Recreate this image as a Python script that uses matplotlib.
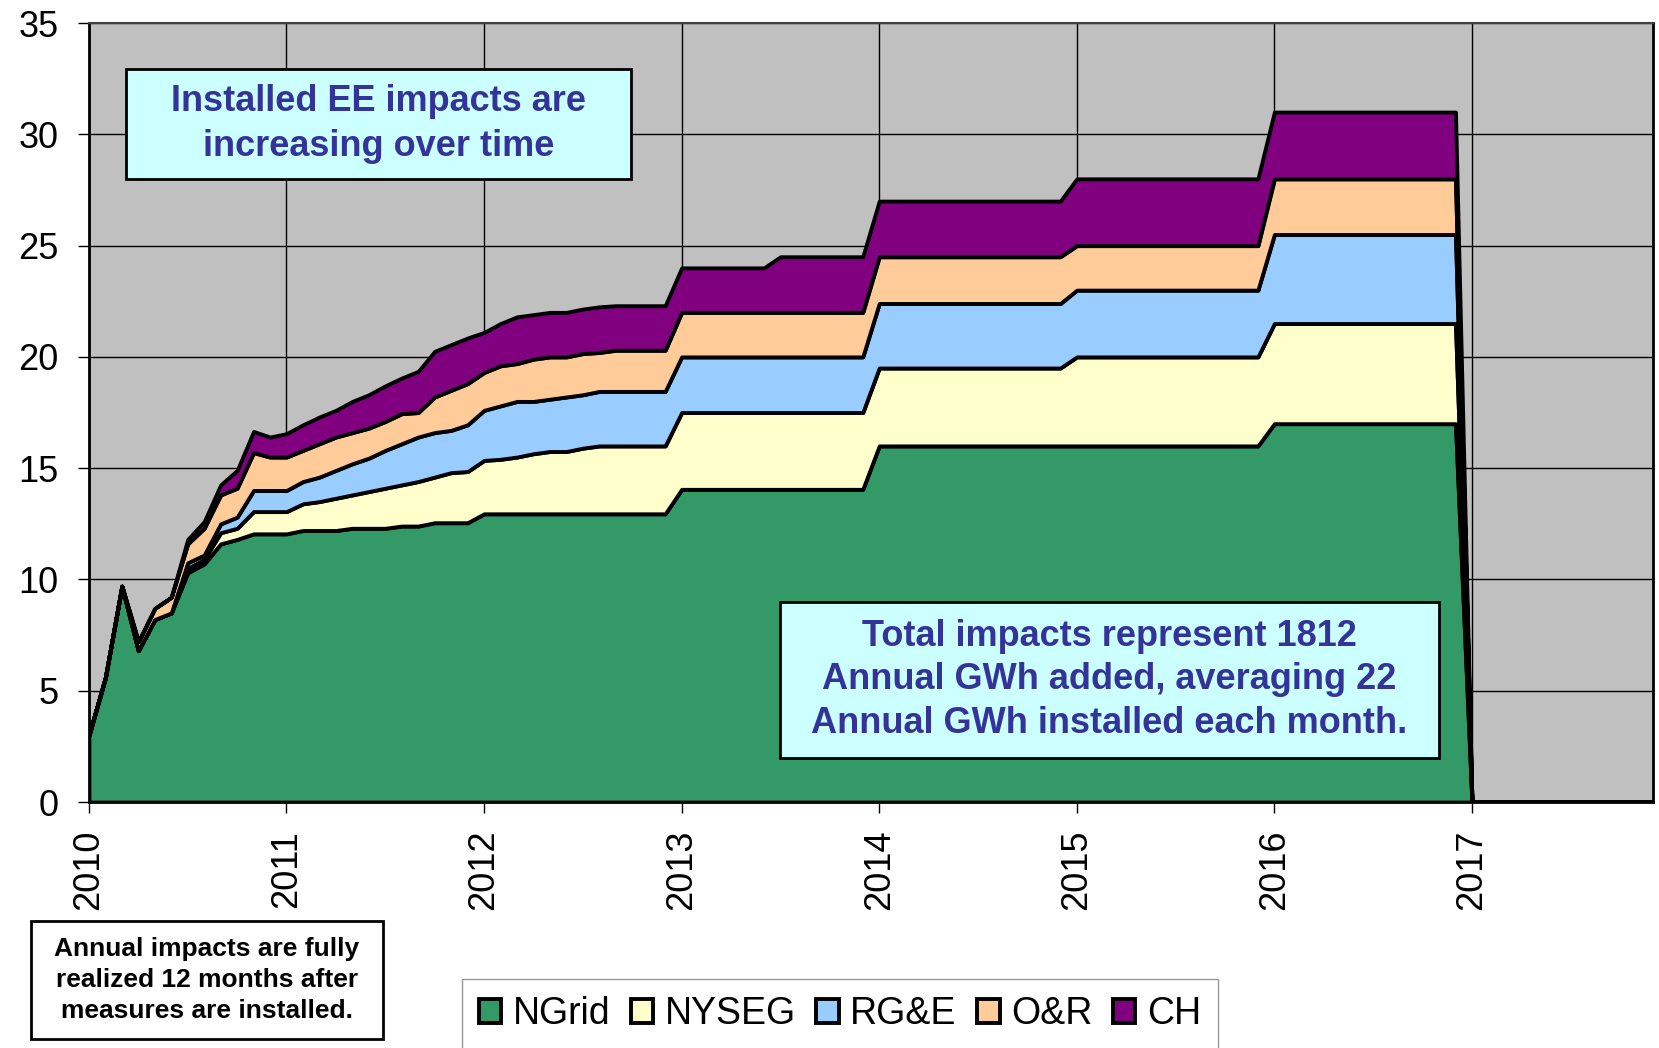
import matplotlib
matplotlib.use("Agg")
from matplotlib import pyplot as plt
from matplotlib.patches import Rectangle
import numpy as np

plt.rcParams["font.family"] = ["Liberation Sans", "DejaVu Sans"]

# monthly installed EE impacts, Jan 2010 .. Dec 2017
years = [2010, 2011, 2012, 2013, 2014, 2015, 2016, 2017]
companies = ["NGrid", "NYSEG", "RG&E", "O&R", "CH"]
colors = ["#339966", "#FFFFCC", "#99CCFF", "#FFCC99", "#800080"]

ngrid = [
    3.0, 5.6, 9.7, 6.8, 8.2, 8.5, 10.3, 10.7, 11.6, 11.8, 12.05, 12.05,
    12.05, 12.2, 12.2, 12.2, 12.3, 12.3, 12.3, 12.4, 12.4, 12.55, 12.55, 12.55,
    12.95, 12.95, 12.95, 12.95, 12.95, 12.95, 12.95, 12.95, 12.95, 12.95, 12.95, 12.95,
    14.05, 14.05, 14.05, 14.05, 14.05, 14.05, 14.05, 14.05, 14.05, 14.05, 14.05, 14.05,
    16.0, 16.0, 16.0, 16.0, 16.0, 16.0, 16.0, 16.0, 16.0, 16.0, 16.0, 16.0,
    16.0, 16.0, 16.0, 16.0, 16.0, 16.0, 16.0, 16.0, 16.0, 16.0, 16.0, 16.0,
    17.0, 17.0, 17.0, 17.0, 17.0, 17.0, 17.0, 17.0, 17.0, 17.0, 17.0, 17.0,
    0, 0, 0, 0, 0, 0, 0, 0, 0, 0, 0, 0,
]
nyseg = [
    0, 0, 0, 0, 0, 0, 0.2, 0.2, 0.5, 0.5, 1.0, 1.0,
    1.0, 1.2, 1.3, 1.45, 1.5, 1.65, 1.8, 1.85, 2.0, 2.05, 2.25, 2.3,
    2.4, 2.45, 2.55, 2.7, 2.8, 2.8, 2.95, 3.05, 3.05, 3.05, 3.05, 3.05,
    3.45, 3.45, 3.45, 3.45, 3.45, 3.45, 3.45, 3.45, 3.45, 3.45, 3.45, 3.45,
    3.5, 3.5, 3.5, 3.5, 3.5, 3.5, 3.5, 3.5, 3.5, 3.5, 3.5, 3.5,
    4.0, 4.0, 4.0, 4.0, 4.0, 4.0, 4.0, 4.0, 4.0, 4.0, 4.0, 4.0,
    4.5, 4.5, 4.5, 4.5, 4.5, 4.5, 4.5, 4.5, 4.5, 4.5, 4.5, 4.5,
    0, 0, 0, 0, 0, 0, 0, 0, 0, 0, 0, 0,
]
rge = [
    0, 0, 0, 0, 0, 0, 0.25, 0.2, 0.4, 0.5, 0.95, 0.95,
    0.95, 1.0, 1.1, 1.25, 1.4, 1.5, 1.7, 1.85, 2.0, 2.0, 1.9, 2.1,
    2.25, 2.4, 2.5, 2.35, 2.35, 2.45, 2.4, 2.45, 2.45, 2.45, 2.45, 2.45,
    2.5, 2.5, 2.5, 2.5, 2.5, 2.5, 2.5, 2.5, 2.5, 2.5, 2.5, 2.5,
    2.9, 2.9, 2.9, 2.9, 2.9, 2.9, 2.9, 2.9, 2.9, 2.9, 2.9, 2.9,
    3.0, 3.0, 3.0, 3.0, 3.0, 3.0, 3.0, 3.0, 3.0, 3.0, 3.0, 3.0,
    4.0, 4.0, 4.0, 4.0, 4.0, 4.0, 4.0, 4.0, 4.0, 4.0, 4.0, 4.0,
    0, 0, 0, 0, 0, 0, 0, 0, 0, 0, 0, 0,
]
onr = [
    0, 0, 0, 0.4, 0.5, 0.7, 0.85, 1.2, 1.3, 1.3, 1.7, 1.5,
    1.5, 1.4, 1.5, 1.5, 1.4, 1.35, 1.3, 1.35, 1.1, 1.6, 1.8, 1.85,
    1.7, 1.8, 1.7, 1.9, 1.9, 1.8, 1.85, 1.75, 1.85, 1.85, 1.85, 1.85,
    2.0, 2.0, 2.0, 2.0, 2.0, 2.0, 2.0, 2.0, 2.0, 2.0, 2.0, 2.0,
    2.1, 2.1, 2.1, 2.1, 2.1, 2.1, 2.1, 2.1, 2.1, 2.1, 2.1, 2.1,
    2.0, 2.0, 2.0, 2.0, 2.0, 2.0, 2.0, 2.0, 2.0, 2.0, 2.0, 2.0,
    2.5, 2.5, 2.5, 2.5, 2.5, 2.5, 2.5, 2.5, 2.5, 2.5, 2.5, 2.5,
    0, 0, 0, 0, 0, 0, 0, 0, 0, 0, 0, 0,
]
ch = [
    0, 0, 0, 0, 0, 0, 0.2, 0.3, 0.45, 0.8, 0.95, 0.9,
    1.05, 1.15, 1.2, 1.2, 1.4, 1.5, 1.6, 1.6, 1.85, 2.05, 2.05, 2.05,
    1.8, 1.9, 2.1, 2.0, 2.0, 2.0, 2.0, 2.05, 2.0, 2.0, 2.0, 2.0,
    2.0, 2.0, 2.0, 2.0, 2.0, 2.0, 2.5, 2.5, 2.5, 2.5, 2.5, 2.5,
    2.5, 2.5, 2.5, 2.5, 2.5, 2.5, 2.5, 2.5, 2.5, 2.5, 2.5, 2.5,
    3.0, 3.0, 3.0, 3.0, 3.0, 3.0, 3.0, 3.0, 3.0, 3.0, 3.0, 3.0,
    3.0, 3.0, 3.0, 3.0, 3.0, 3.0, 3.0, 3.0, 3.0, 3.0, 3.0, 3.0,
    0, 0, 0, 0, 0, 0, 0, 0, 0, 0, 0, 0,
]

box_top = "Installed EE impacts are\nincreasing over time"
box_mid = "Total impacts represent 1812\nAnnual GWh added, averaging 22\nAnnual GWh installed each month."
box_note = "Annual impacts are fully\nrealized 12 months after\nmeasures are installed."

months = np.arange(len(ngrid))

fig = plt.figure(figsize=(16.59, 10.48), dpi=100)
ax = fig.add_axes([0.0536, 0.2347, 0.9428, 0.7433])
ax.set_facecolor("#C0C0C0")

ax.stackplot(months, ngrid, nyseg, rge, onr, ch, labels=companies,
             colors=colors, edgecolor="black", linewidth=2.8, zorder=3)

ax.set_xlim(0, len(months) - 1)
ax.set_ylim(0, 35)
ax.set_xticks([12 * i for i in range(len(years))])
ax.set_xticklabels([str(y) for y in years], rotation=90, fontsize=26)
ax.set_yticks(range(0, 36, 5))
ax.tick_params(axis="y", labelsize=26, length=8, width=1, pad=14)
ax.tick_params(axis="x", length=8, width=1, pad=12)
ax.grid(True, color="black", linewidth=1, zorder=1)
ax.set_axisbelow(True)
for side in ["left", "bottom", "right"]:
    ax.spines[side].set_linewidth(2)
ax.spines["top"].set_color("#404040")
ax.spines["top"].set_linewidth(1.5)

# text boxes
def note(x0, y0, w, h, text, face, color, size, spacing):
    fig.patches.append(Rectangle((x0, y0), w, h, transform=fig.transFigure,
                                 facecolor=face, edgecolor="black",
                                 linewidth=2, zorder=5))
    fig.text(x0 + w / 2, y0 + h / 2, text, ha="center", va="center",
             fontsize=size, fontweight="bold", color=color,
             linespacing=spacing, zorder=6)

note(0.0760, 0.8292, 0.3044, 0.1050, box_top, "#CCFFFF", "#333399", 26, 1.35)
note(0.4702, 0.2767, 0.3972, 0.1489, box_mid, "#CCFFFF", "#333399", 26, 1.32)
note(0.0187, 0.0086, 0.2122, 0.1126, box_note, "white", "black", 19, 1.38)

leg = fig.legend(loc="upper left", bbox_to_anchor=(0.2785, 0.0658), ncol=5,
                 fontsize=27, frameon=True, fancybox=False, borderaxespad=0,
                 borderpad=0.45, handlelength=0.6, handleheight=0.6,
                 handletextpad=0.3, columnspacing=0.55)
leg.get_frame().set_edgecolor("#808080")
leg.get_frame().set_linewidth(1)

fig.savefig("out.png", dpi=100)
